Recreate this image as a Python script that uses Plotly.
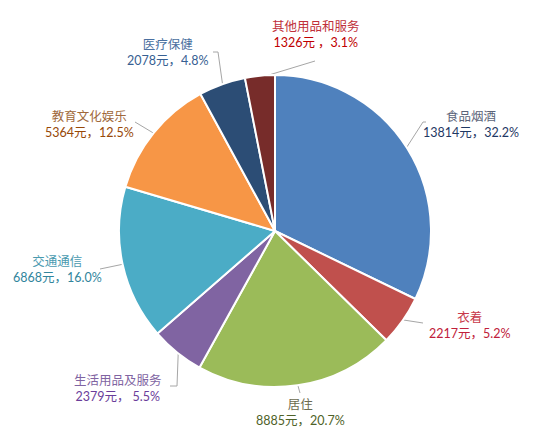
import math
import plotly.graph_objects as go

# 消费支出构成
categories = ["食品烟酒", "衣着", "居住", "生活用品及服务", "交通通信", "教育文化娱乐", "医疗保健", "其他用品和服务"]
values = [13814, 2217, 8885, 2379, 6868, 5364, 2078, 1326]
separators = ["，", "，", "，", "， ", "，", "，", "，", " ，"]

slice_colors = ["#4F81BD", "#C0504D", "#9BBB59", "#8064A2", "#4BACC6", "#F79646", "#2C4D75", "#772C2A"]
name_colors = ["#5A6378", "#C8384A", "#6B6B50", "#8064A2", "#4A9AAF", "#A0683A", "#4A6FA0", "#C0303A"]
value_colors = ["#1F3864", "#C0203A", "#4F6228", "#6A3D9A", "#31859C", "#984807", "#376092", "#C00000"]

W, H = 540, 435
cx, cy, r = 275, 231, 156

# 标签中心位置（像素）及引导线拐点
label_pos = [(471, 124), (469, 325), (300, 412), (118, 388), (57, 269), (89, 124), (167, 52), (316, 34)]
leader_pts = [
    [(423, 122), (426, 122)],
    [(423, 323)],
    [(300, 393)],
    [(177, 386), (170, 386)],
    [(100, 269)],
    [(135, 122)],
    [(218, 52), (213, 52)],
    [(315, 61)],
]

fig = go.Figure()
fig.add_trace(go.Pie(
    labels=categories, values=values, sort=False, direction="clockwise", rotation=0,
    marker=dict(colors=slice_colors, line=dict(color="white", width=2)),
    textinfo="none", showlegend=False, hoverinfo="skip",
    domain=dict(x=[(cx - r) / W, (cx + r) / W], y=[(H - cy - r) / H, (H - cy + r) / H]),
))

total = sum(values)
cum = 0
shapes = []
annotations = []
for i, v in enumerate(values):
    mid = (cum + v / 2) / total * 2 * math.pi
    cum += v
    ex, ey = cx + (r - 2) * math.sin(mid), cy - (r - 2) * math.cos(mid)
    pts = [(ex, ey)] + leader_pts[i]
    path = "M " + " L ".join(f"{x:.1f},{y:.1f}" for x, y in pts)
    shapes.append(dict(type="path", path=path, xref="x", yref="y", layer="below",
                       line=dict(color="#A6A6A6", width=1)))
    pct = v / total * 100
    txt = (f"<span style='color:{name_colors[i]}'>{categories[i]}</span><br>"
           f"<span style='color:{value_colors[i]}'>{v}元{separators[i]}{pct:.1f}%</span>")
    lx, ly = label_pos[i]
    annotations.append(dict(x=lx, y=ly, xref="x", yref="y", text=txt, showarrow=False,
                            xanchor="center", yanchor="middle", align="center",
                            font=dict(size=12.5, family="Lato, Noto Sans CJK SC")))

fig.update_layout(
    width=W, height=H, margin=dict(l=0, r=0, t=0, b=0),
    paper_bgcolor="white", plot_bgcolor="rgba(0,0,0,0)",
    xaxis=dict(range=[0, W], visible=False, fixedrange=True),
    yaxis=dict(range=[H, 0], visible=False, fixedrange=True),
    shapes=shapes, annotations=annotations,
)
fig.write_html("out.html", config={"displayModeBar": False},
               post_script="document.body.style.margin='0';")
